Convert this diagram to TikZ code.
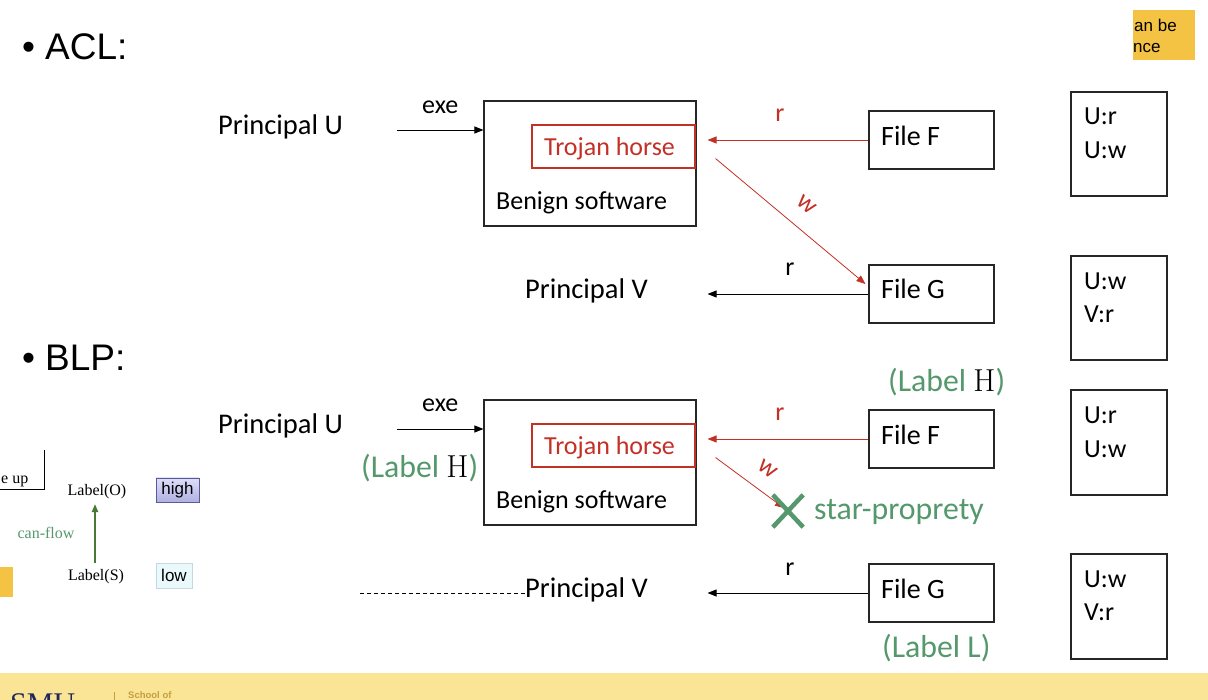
\documentclass[tikz,border=0pt]{standalone}
\usepackage{fontspec}
\setmainfont{Carlito}
\newfontfamily\arialf{Liberation Sans}
\newfontfamily\tnrf{Liberation Serif}
\newfontfamily\lmrf{Latin Modern Roman}
\usetikzlibrary{arrows.meta,calc}
\definecolor{myred}{RGB}{196,48,38}
\definecolor{mygreen}{RGB}{84,152,108}
\definecolor{flowgreen}{RGB}{72,122,52}
\definecolor{footy}{RGB}{250,228,150}
\definecolor{goldbox}{RGB}{245,195,68}
\definecolor{navy}{RGB}{30,40,90}
\definecolor{goldtxt}{RGB}{196,160,60}
\tikzset{
  bx/.style={draw=black!85, line width=1.1pt, inner sep=0pt, rectangle},
  t/.style={inner sep=0pt, font=\fontsize{26}{31}\selectfont, anchor=base west},
  pt/.style={inner sep=0pt, font=\fontsize{28.5}{33}\selectfont, anchor=base west},
  ft/.style={inner sep=0pt, font=\fontsize{28}{33}\selectfont, anchor=base west},
  lbl/.style={inner sep=0pt, font=\fontsize{26}{31}\selectfont, anchor=base},
  big/.style={inner sep=0pt, font=\fontsize{31.8}{36}\selectfont, anchor=base west, text=mygreen},
  ttl/.style={inner sep=0pt, font=\arialf\fontsize{37}{44}\selectfont, anchor=base west},
  arr/.style={-{Triangle[length=9pt,width=7pt]}, line width=0.9pt},
  sml/.style={inner sep=0pt, font=\tnrf\fontsize{16}{19}\selectfont},
}
\begin{document}
\begin{tikzpicture}[x=1pt,y=-1pt]
\useasboundingbox (0,0) rectangle (1208,700);
\clip (0,0) rectangle (1208,700);
\fill[white] (0,0) rectangle (1208,700);

% footer
\fill[footy] (0,673) rectangle (1208,700);
\node[inner sep=0pt, font=\tnrf\fontsize{30}{30}\selectfont, text=navy, anchor=base west] (smu) at (10,713) {SMU};
\draw[goldtxt, line width=0.8pt] (114,692) -- (114,700);
\node[inner sep=0pt, font=\arialf\bfseries\fontsize{9.5}{10}\selectfont, text=goldtxt, anchor=base west] (sch) at (128,698) {School of};

% gold box top right
\node[fill=goldbox, minimum width=62, minimum height=50, inner sep=0pt] (gb) at (1164,35) {};
\begin{scope}
\clip (1133,10) rectangle (1195,60);
\node[inner sep=0pt, font=\arialf\fontsize{17}{20}\selectfont, anchor=base west] (gb1) at (1134,32) {an be};
\node[inner sep=0pt, font=\arialf\fontsize{17}{20}\selectfont, anchor=base west] (gb2) at (1133,53) {nce};
\end{scope}

% titles
\node[ttl] (b1) at (22,60) {•};
\node[ttl] (acl) at (45,60) {ACL:};
\node[ttl] (b2) at (22,371) {•};
\node[ttl] (blp) at (45,371) {BLP:};

% ===== ACL part =====
\node[pt] (pU1) at (218,135) {Principal U};
\node[bx, minimum width=212, minimum height=125] (ben1) at (590,163.5) {};
\node[bx, draw=myred, minimum width=163, minimum height=43] (tro1) at (613.5,146.5) {};
\node[t, text=myred] (trt1) at (544,155.5) {Trojan horse};
\node[t] (bs1) at (496,209.5) {Benign software};
\node[bx, minimum width=125, minimum height=58] (fF1) at (931.5,140) {};
\node[ft] (fFt1) at (881,146) {File F};
\node[bx, minimum width=125, minimum height=58] (fG1) at (931.5,294) {};
\node[ft] (fGt1) at (881,299) {File G};
\node[pt] (pV1) at (525,299) {Principal V};
\node[bx, minimum width=96, minimum height=104] (acl1) at (1119,144) {};
\node[t] at (1084,124.5) {U:r};
\node[t] at (1084,158.5) {U:w};
\node[bx, minimum width=96, minimum height=104] (acl2) at (1119,308) {};
\node[t] at (1084,289.5) {U:w};
\node[t] at (1084,322.5) {V:r};

\coordinate (e1) at (397,130);
\draw[arr] (e1) -- (e1 -| ben1.west) node[lbl, midway, yshift=16pt] {exe};
\draw[arr, myred] (fF1.west) -- ($(tro1.east |- fF1.west)+(12,0)$) node[lbl, text=myred, midway, xshift=-8pt, yshift=18pt] {r};
\coordinate (w1) at ($(tro1.south east)+(20,-10)$);
\draw[arr, myred, line width=0.8pt] (w1) -- ($(fG1.west)+(-3,-10)$) node[inner sep=0pt, font=\fontsize{26}{31}\selectfont, text=myred, pos=0.51, sloped, above=16pt] {w};
\draw[arr] (fG1.west) -- ($(tro1.east |- fG1.west)+(12,0)$) node[lbl, midway, xshift=2pt, yshift=18pt] {r};

% ===== BLP part =====
\node[pt] (pU2) at (218,434) {Principal U};
\node[bx, minimum width=212, minimum height=125] (ben2) at (590,462.5) {};
\node[bx, draw=myred, minimum width=163, minimum height=43] (tro2) at (613.5,445.5) {};
\node[t, text=myred] (trt2) at (544,454.5) {Trojan horse};
\node[t] (bs2) at (496,508.5) {Benign software};
\node[bx, minimum width=125, minimum height=58] (fF2) at (931.5,439) {};
\node[ft] (fFt2) at (881,445) {File F};
\node[bx, minimum width=125, minimum height=58] (fG2) at (931.5,593) {};
\node[ft] (fGt2) at (881,598) {File G};
\node[pt] (pV2) at (525,597) {Principal V};
\node[bx, minimum width=96, minimum height=105] (acl3) at (1119,442.5) {};
\node[t] at (1084,423.5) {U:r};
\node[t] at (1084,457.5) {U:w};
\node[bx, minimum width=96, minimum height=105] (acl4) at (1119,606.5) {};
\node[t] at (1084,587.5) {U:w};
\node[t] at (1084,620.5) {V:r};

\node[big] (lh1) at (361,478) {(Label {\lmrf\color{black}H})};
\node[big] (lh2) at (888,392) {(Label {\lmrf\color{black}H})};
\node[big] (ll) at (882,657) {(Label L)};

\coordinate (e2) at (397,429);
\draw[arr] (e2) -- (e2 -| ben2.west) node[lbl, midway, yshift=17pt] {exe};
\draw[arr, myred] (fF2.west) -- ($(tro2.east |- fF2.west)+(12,0)$) node[lbl, text=myred, midway, xshift=-8pt, yshift=18pt] {r};
\node[minimum width=30, minimum height=32, inner sep=0pt] (xm) at (788,511) {};
\coordinate (w2) at ($(tro2.south east)+(20,-10)$);
\draw[arr, myred, line width=0.8pt, shorten >=5pt] (w2) -- (xm.center) node[inner sep=0pt, font=\fontsize{26}{31}\selectfont, text=myred, pos=0.54, sloped, above=15pt] {w};
\draw[mygreen, line width=4.5pt] (xm.north west) -- (xm.south east) (xm.north east) -- (xm.south west);
\node[big] (star) at (814,519) {star-proprety};
\draw[arr] (fG2.west) -- ($(tro2.east |- fG2.west)+(12,0)$) node[lbl, midway, xshift=2pt, yshift=18pt] {r};
\coordinate (dl) at (360,593);
\draw[line width=0.8pt, dash pattern=on 4pt off 3pt] (dl) -- (dl -| pV2.west);

% ===== left panel =====
\draw[line width=0.9pt] (-5,489) -- (44,489) -- (44,450);
\node[sml, anchor=base west] (eup) at (1,483) {e up};
\node[sml, anchor=base] (lO) at (97,495) {Label(O)};
\node[sml, anchor=base] (lS) at (96,580) {Label(S)};
\node[sml, anchor=base, text=mygreen] (cf) at (46,538) {can-flow};
\draw[flowgreen, line width=2.4pt, -{Triangle[length=8pt,width=6pt]}] (lS.north -| 95,0) ++(0,-6) -- (95,504);
\node[draw={rgb,255:red,90;green,90;blue,150}, line width=0.8pt, top color={rgb,255:red,222;green,222;blue,250}, bottom color={rgb,255:red,176;green,176;blue,226}, minimum width=43, minimum height=24, inner sep=0pt, font=\arialf\fontsize{17}{20}\selectfont] (hi) at (177.5,490) {high};
\node[draw={rgb,255:red,200;green,215;blue,222}, line width=0.8pt, fill={rgb,255:red,234;green,249;blue,251}, minimum width=36, minimum height=25, inner sep=0pt, font=\arialf\fontsize{17}{20}\selectfont] (lo) at (174,575.5) {low};
\fill[goldbox] (0,567) rectangle (13,597);
\end{tikzpicture}
\end{document}
